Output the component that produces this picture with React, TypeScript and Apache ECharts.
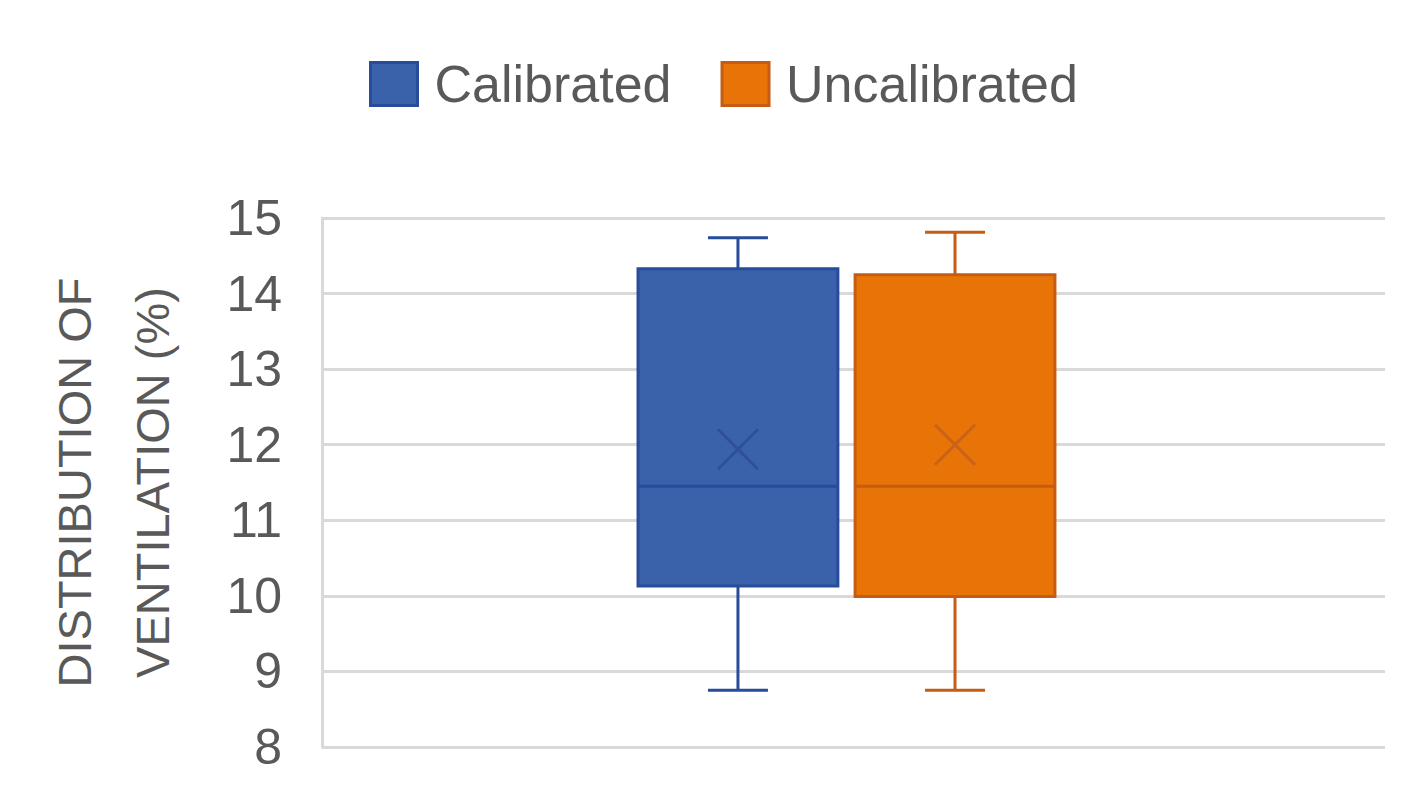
import { useEffect, useRef } from "react";
import * as echarts from "echarts";

// values
const seriesNames = ["Calibrated", "Uncalibrated"];
const whiskerMin = [8.75, 8.75];
const q1 = [10.13, 9.99];
const median = [11.45, 11.45];
const q3 = [14.33, 14.25];
const whiskerMax = [14.74, 14.81];
const mean = [11.94, 12.0];

const yMin = 8;
const yMax = 15;
const yStep = 1;

const fills = ["#3A62AB", "#E87408"];
const borders = ["#274D9A", "#C65B14"];
const markColors = ["#2E5096", "#C9621A"];

// box centre offsets and width, as fraction of the category band
const boxOffset = [-0.1087, 0.0955];
const boxWidth = 0.188;
const capHalf = 30;
const crossHalf = 20;

const font = "'Liberation Sans', Arial, sans-serif";
const textColor = "#595959";

export default function App() {
  const ref = useRef<HTMLDivElement | null>(null);

  useEffect(() => {
    if (!ref.current) return;
    const chart = echarts.init(ref.current, null, { renderer: "svg" });

    const renderItem = (params: any, api: any) => {
      const i = params.seriesIndex;
      const cat = api.value(0);
      const band = api.size([1, 0])[0];
      const xc = api.coord([cat, yMin])[0] + boxOffset[i] * band;
      const w = boxWidth * band;
      const y = (v: number) => api.coord([cat, v])[1];
      const yLo = y(api.value(1));
      const yQ1 = y(api.value(2));
      const yMed = y(api.value(3));
      const yQ3 = y(api.value(4));
      const yHi = y(api.value(5));
      const yMean = y(api.value(6));
      const lineStyle = { stroke: borders[i], lineWidth: 3 };
      return {
        type: "group",
        children: [
          { type: "line", shape: { x1: xc, y1: yHi, x2: xc, y2: yQ3 }, style: lineStyle },
          { type: "line", shape: { x1: xc, y1: yQ1, x2: xc, y2: yLo }, style: lineStyle },
          { type: "line", shape: { x1: xc - capHalf, y1: yHi, x2: xc + capHalf, y2: yHi }, style: lineStyle },
          { type: "line", shape: { x1: xc - capHalf, y1: yLo, x2: xc + capHalf, y2: yLo }, style: lineStyle },
          {
            type: "rect",
            shape: { x: xc - w / 2, y: yQ3, width: w, height: yQ1 - yQ3 },
            style: { fill: fills[i], stroke: borders[i], lineWidth: 3 },
          },
          { type: "line", shape: { x1: xc - w / 2, y1: yMed, x2: xc + w / 2, y2: yMed }, style: lineStyle },
          {
            type: "line",
            shape: { x1: xc - crossHalf, y1: yMean - crossHalf, x2: xc + crossHalf, y2: yMean + crossHalf },
            style: { stroke: markColors[i], lineWidth: 3 },
          },
          {
            type: "line",
            shape: { x1: xc - crossHalf, y1: yMean + crossHalf, x2: xc + crossHalf, y2: yMean - crossHalf },
            style: { stroke: markColors[i], lineWidth: 3 },
          },
        ],
      };
    };

    chart.setOption({
      animation: false,
      backgroundColor: "#ffffff",
      textStyle: { fontFamily: font },
      legend: {
        left: 364,
        top: 53,
        icon: "rect",
        itemWidth: 47,
        itemHeight: 43,
        itemGap: 49,
        textStyle: { fontSize: 52, color: textColor, fontFamily: font, padding: [0, 0, 0, 12] },
        data: seriesNames.map((name, i) => ({
          name,
          itemStyle: { color: fills[i], borderColor: borders[i], borderWidth: 3 },
        })),
      },
      grid: { left: 322, right: 32, top: 218, bottom: 53, outerBoundsMode: "none", containLabel: false },
      xAxis: {
        type: "category",
        data: [""],
        axisLine: { show: false },
        axisTick: { show: false },
        axisLabel: { show: false },
        splitLine: { show: false },
      },
      yAxis: {
        type: "value",
        min: yMin,
        max: yMax,
        interval: yStep,
        name: "DISTRIBUTION OF\nVENTILATION (%)",
        nameLocation: "middle",
        nameGap: 131,
        nameMoveOverlap: false,
        nameTextStyle: { fontSize: 47, color: textColor, fontFamily: font, lineHeight: 78 },
        axisLine: { show: true, lineStyle: { color: "#D9D9D9", width: 3 } },
        axisTick: { show: false },
        axisLabel: { fontSize: 50, color: textColor, fontFamily: font, margin: 40 },
        splitLine: { show: true, lineStyle: { color: "#D9D9D9", width: 3 } },
      },
      series: seriesNames.map((name, i) => ({
        name,
        type: "custom",
        renderItem,
        itemStyle: { color: fills[i], borderColor: borders[i] },
        encode: { x: 0, y: [1, 2, 3, 4, 5, 6] },
        data: [[0, whiskerMin[i], q1[i], median[i], q3[i], whiskerMax[i], mean[i]]],
      })),
    });

    return () => chart.dispose();
  }, []);

  return (
    <div
      ref={ref}
      style={{ position: "absolute", left: 0, top: 0, width: 1417, height: 800 }}
    />
  );
}
